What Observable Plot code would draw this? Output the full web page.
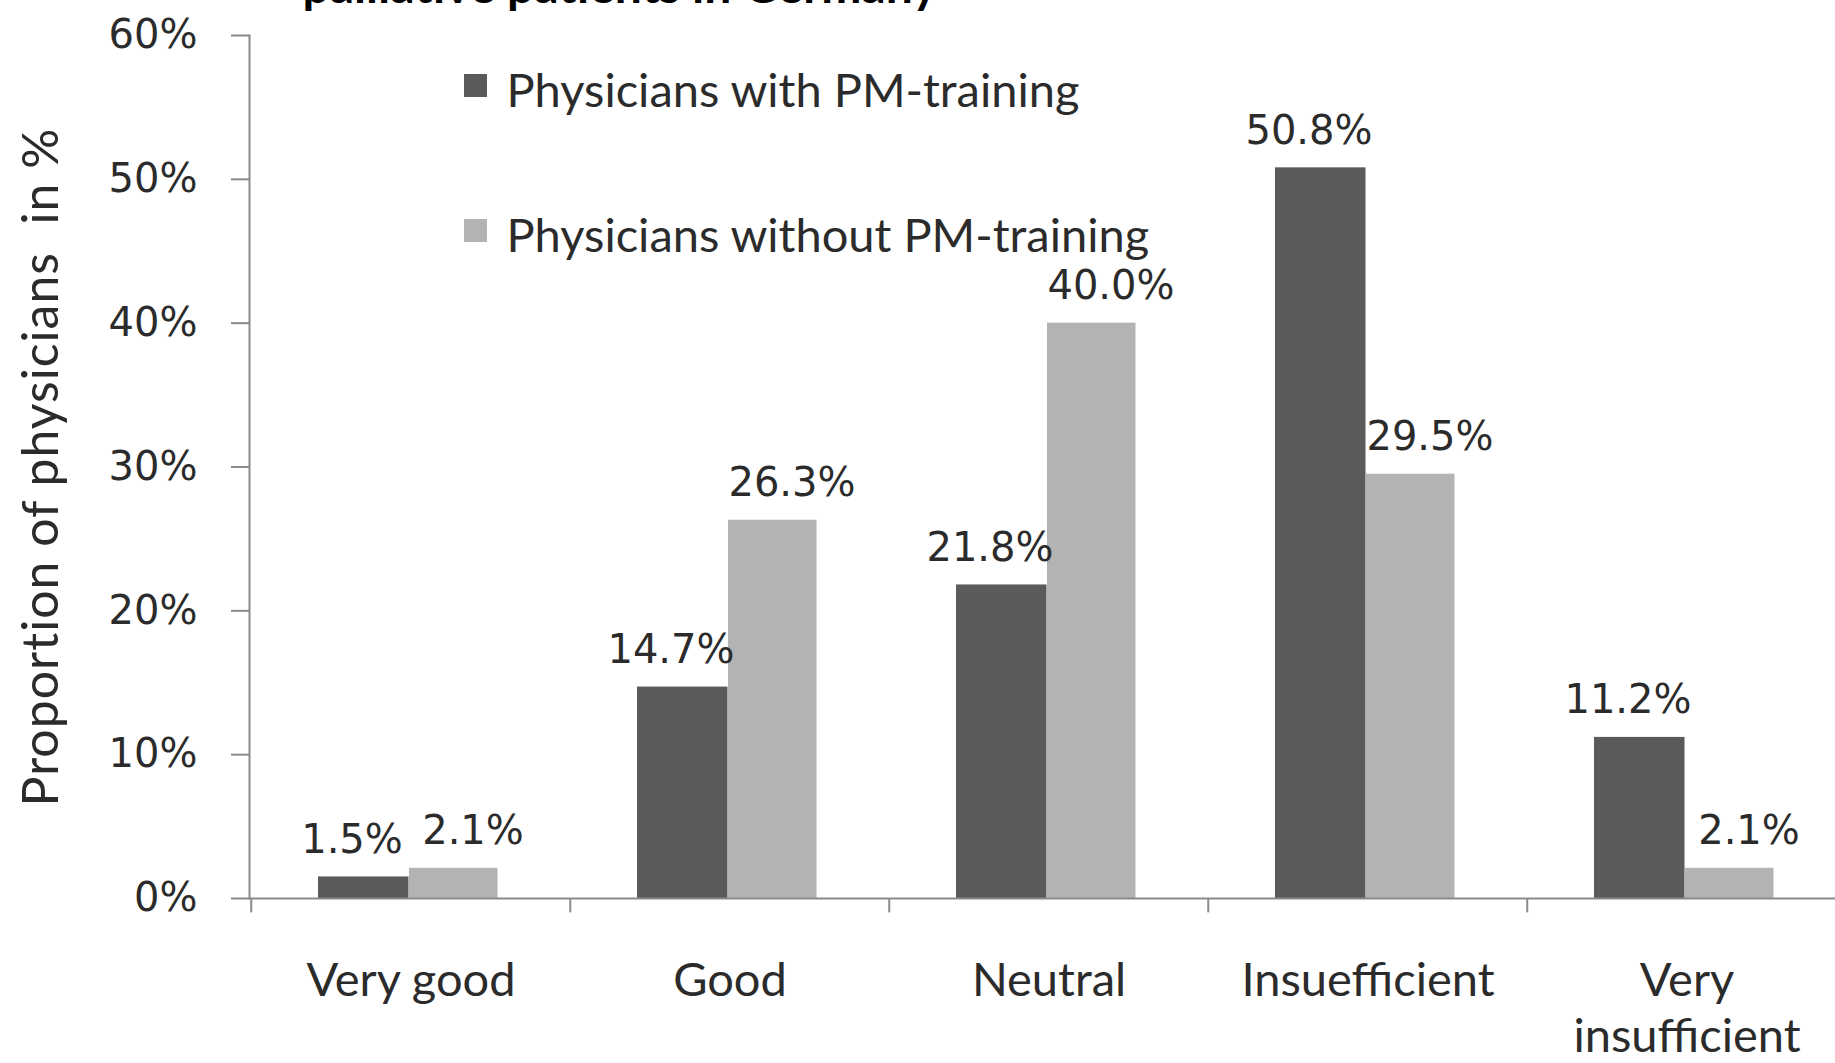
<!DOCTYPE html>
<html><head><meta charset="utf-8">
<script src="https://cdn.jsdelivr.net/npm/d3@7"></script>
<script src="https://cdn.jsdelivr.net/npm/@observablehq/plot@0.6"></script>
<style>html,body{margin:0;padding:0;background:#fff;overflow:hidden;} svg{max-width:none !important;} .ylab text{letter-spacing:1px;}</style>
</head><body><div id="chart"></div>
<script>
const categories = ["Very good", "Good", "Neutral", "Insuefficient", "Very\ninsufficient"];
const seriesNames = ["Physicians with PM-training", "Physicians without PM-training"];
const withTraining = [1.5, 14.7, 21.8, 50.8, 11.2];
const withoutTraining = [2.1, 26.3, 40.0, 29.5, 2.1];
const yTicks = [0, 10, 20, 30, 40, 50, 60];
const titleText = "palliative patients in Germany";
const yLabel = "Proportion of physicians  in %";

const data = categories.flatMap((c, i) => [
  {category: c, series: seriesNames[0], value: withTraining[i]},
  {category: c, series: seriesNames[1], value: withoutTraining[i]}
]);
const dark = data.filter(d => d.series === seriesNames[0]);
const light = data.filter(d => d.series === seriesNames[1]);

const axisGray = "#8a8a8a";
const txt = "#2b2b2b";
const labelFont = "Lato";
const numFont = "DejaVu Sans";

const chart = Plot.plot({
  width: 1847,
  height: 1063,
  marginLeft: 249,
  marginRight: 0,
  marginTop: 35,
  marginBottom: 165,
  style: {background: "#fff", fontFamily: labelFont, color: txt, maxWidth: "none"},
  x: {domain: categories, padding: 0, axis: null},
  y: {domain: [0, 60], axis: null},
  color: {domain: seriesNames, range: ["#5a5a5a", "#b3b3b3"]},
  marks: [
    Plot.barY(dark, {x: "category", y: "value", fill: "series", insetLeft: 67, insetRight: 161.5}),
    Plot.barY(light, {x: "category", y: "value", fill: "series", insetLeft: 158, insetRight: 72.5}),
    Plot.ruleY([0], {stroke: axisGray, strokeWidth: 2}),
    Plot.frame({anchor: "left", stroke: axisGray, strokeWidth: 2}),
    Plot.ruleX(categories, {x: d => d, dx: -159.75, y1: 0, y2: -1, stroke: axisGray, strokeWidth: 2}),
    Plot.axisY({ticks: yTicks, tickSize: 18, tickFormat: () => "", stroke: axisGray, strokeWidth: 2, label: null}),
    Plot.axisY({ticks: yTicks, tickSize: 0, tickPadding: 52, tickFormat: d => d + "%", fontSize: 40, fontFamily: numFont, fill: txt, label: null}),
    Plot.text(dark, {x: "category", y: "value", text: d => d.value.toFixed(1) + "%", dx: -59, dy: -24, lineAnchor: "bottom", fontSize: 40, fontFamily: numFont, fill: txt}),
    Plot.text(light, {x: "category", y: "value", text: d => d.value.toFixed(1) + "%", dx: 62, dy: -24, lineAnchor: "bottom", fontSize: 40, fontFamily: numFont, fill: txt}),
    Plot.text(categories, {x: d => d, frameAnchor: "bottom", dy: 58, lineAnchor: "top", lineHeight: 1.19, fontSize: 47, fill: txt}),
    Plot.text([yLabel], {frameAnchor: "left", textAnchor: "middle", dx: -208, rotate: -90, fontSize: 50, fill: txt, className: "ylab"}),
    Plot.text([titleText], {frameAnchor: "top-left", dx: 53, dy: -33, textAnchor: "start", lineAnchor: "bottom", fontWeight: "bold", fontSize: 48, fill: "#000"}),
    Plot.dot([seriesNames[0]], {frameAnchor: "top-left", dx: 226, dy: 50, symbol: "square", r: 13, fill: d => d, stroke: null}),
    Plot.dot([seriesNames[1]], {frameAnchor: "top-left", dx: 226, dy: 195, symbol: "square", r: 13, fill: d => d, stroke: null}),
    Plot.text([seriesNames[0]], {frameAnchor: "top-left", dx: 257, dy: 38, textAnchor: "start", fontSize: 47, fill: txt}),
    Plot.text([seriesNames[1]], {frameAnchor: "top-left", dx: 257, dy: 183, textAnchor: "start", fontSize: 47, fill: txt})
  ]
});
document.getElementById("chart").appendChild(chart);
</script>
</body></html>
